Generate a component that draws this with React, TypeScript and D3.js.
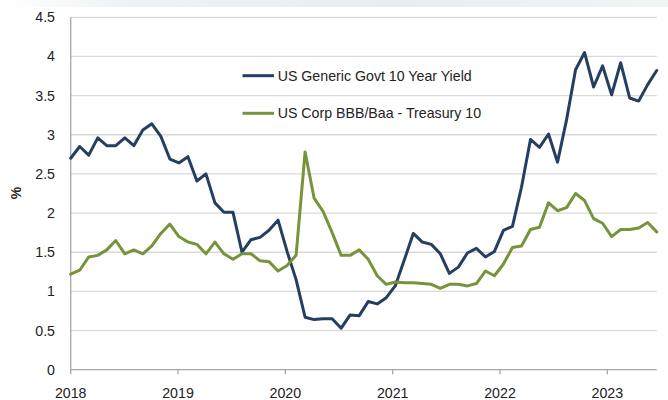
import React from "react";
import * as d3 from "d3";

const startYear = 2018;
const endYear = 2023.46;
const yearTicks = [2018, 2019, 2020, 2021, 2022, 2023];
const yTicks = [0, 0.5, 1, 1.5, 2, 2.5, 3, 3.5, 4, 4.5];

const govt10y = [
  2.70, 2.85, 2.74, 2.96, 2.86, 2.86, 2.96, 2.86, 3.06, 3.14, 2.98, 2.69,
  2.64, 2.72, 2.41, 2.50, 2.13, 2.01, 2.01, 1.50, 1.66, 1.69, 1.78, 1.91,
  1.51, 1.15, 0.67, 0.64, 0.65, 0.65, 0.53, 0.70, 0.69, 0.87, 0.84, 0.92,
  1.07, 1.40, 1.74, 1.63, 1.60, 1.48, 1.23, 1.31, 1.49, 1.55, 1.44, 1.51,
  1.78, 1.83, 2.33, 2.94, 2.84, 3.01, 2.65, 3.19, 3.83, 4.05, 3.61, 3.88,
  3.51, 3.92, 3.47, 3.43, 3.64, 3.82,
];

const bbbSpread = [
  1.22, 1.27, 1.44, 1.46, 1.53, 1.65, 1.48, 1.53, 1.48, 1.58, 1.74, 1.86,
  1.70, 1.63, 1.60, 1.48, 1.63, 1.48, 1.41, 1.48, 1.48, 1.39, 1.38, 1.26,
  1.33, 1.46, 2.78, 2.19, 2.02, 1.75, 1.46, 1.46, 1.53, 1.41, 1.20, 1.09,
  1.12, 1.11, 1.11, 1.10, 1.09, 1.04, 1.09, 1.09, 1.07, 1.10, 1.26, 1.20,
  1.35, 1.56, 1.58, 1.79, 1.82, 2.13, 2.03, 2.07, 2.25, 2.16, 1.93, 1.87,
  1.70, 1.79, 1.79, 1.81, 1.88, 1.76,
];

const seriesNames = ["US Generic Govt 10 Year Yield", "US Corp BBB/Baa - Treasury 10"];
const seriesColors = ["#243f60", "#77933c"];

const W = 668;
const H = 400;
const left = 70.7;
const right = 656.7;
const top = 17.3;
const bottom = 369.7;
const font = "'Liberation Sans', Arial, sans-serif";

export default function App() {
  const x = d3.scaleLinear().domain([startYear, endYear]).range([left, right]);
  const y = d3.scaleLinear().domain([0, 4.5]).range([bottom, top]);
  const n = govt10y.length;
  const t = (i: number) => startYear + (i * (endYear - startYear)) / (n - 1);
  const line = d3
    .line<number>()
    .x((_, i) => x(t(i)))
    .y((v) => y(v))
    .curve(d3.curveLinear);

  const series = [govt10y, bbbSpread];

  return (
    <svg
      width={W}
      height={H}
      style={{ position: "absolute", left: 0, top: 0, background: "#fff" }}
      fontFamily={font}
    >
      <defs>
        <linearGradient id="wm" x1="0" x2="1" y1="0" y2="0">
          <stop offset="0" stopColor="#ffffff" />
          <stop offset="0.2" stopColor="#eef2f4" />
          <stop offset="0.6" stopColor="#e8edf0" />
          <stop offset="1" stopColor="#f2f5f6" />
        </linearGradient>
      </defs>
      <rect x={0} y={0} width={W} height={7} fill="url(#wm)" />
      {yTicks.map((v) => (
        <line
          key={"g" + v}
          x1={left}
          x2={right}
          y1={y(v)}
          y2={y(v)}
          stroke={v === 0 ? "#a6a6a6" : "#d9d9d9"}
          strokeWidth={1.3}
        />
      ))}
      <line x1={left} x2={left} y1={top} y2={bottom} stroke="#a6a6a6" strokeWidth={1.3} />
      {yTicks.map((v) => (
        <text
          key={"yl" + v}
          x={55}
          y={y(v)}
          dy="0.35em"
          textAnchor="end"
          fontSize={14.2}
          fill="#222"
        >
          {v}
        </text>
      ))}
      {yearTicks.map((yr) => (
        <g key={"x" + yr}>
          <line x1={x(yr)} x2={x(yr)} y1={bottom} y2={bottom + 4.5} stroke="#a6a6a6" strokeWidth={1.3} />
          <text x={x(yr)} y={398} textAnchor="middle" fontSize={14.2} fill="#222">
            {yr}
          </text>
        </g>
      ))}
      <text
        transform="translate(21,193) rotate(-90)"
        textAnchor="middle"
        fontSize={14}
        fontWeight="bold"
        fill="#222"
      >
        %
      </text>
      {series.map((s, k) => (
        <path
          key={"s" + k}
          d={line(s) || ""}
          fill="none"
          stroke={seriesColors[k]}
          strokeWidth={3}
          strokeLinejoin="round"
          strokeLinecap="round"
        />
      ))}
      {seriesNames.map((name, k) => (
        <g key={"lg" + k}>
          <line
            x1={242.5}
            x2={274}
            y1={75.7 + k * 37.6}
            y2={75.7 + k * 37.6}
            stroke={seriesColors[k]}
            strokeWidth={3}
          />
          <text x={277.7} y={75.7 + k * 37.6} dy="0.35em" fontSize={14.2} fill="#222">
            {name}
          </text>
        </g>
      ))}
    </svg>
  );
}
